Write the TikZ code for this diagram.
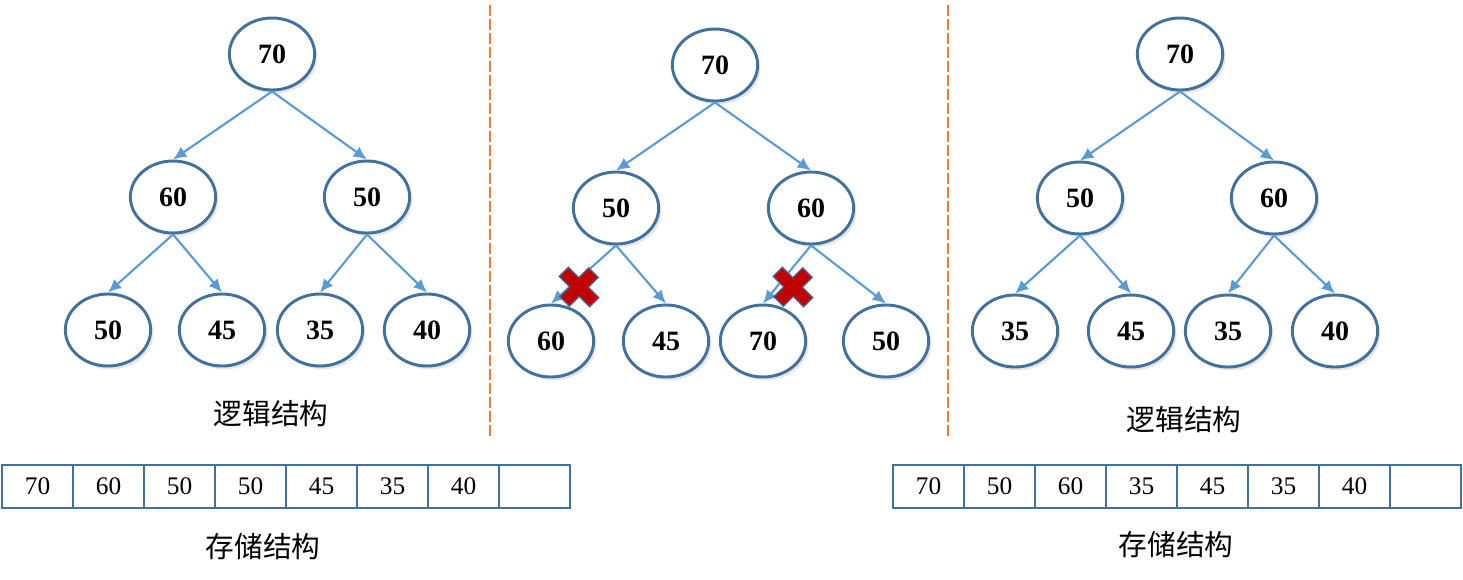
\documentclass[tikz,border=0pt]{standalone}
\usepackage{fontspec}
\setmainfont{Liberation Serif}
\newfontfamily\cjk{Noto Sans CJK SC}
\usetikzlibrary{shapes.geometric,arrows.meta,shadows}
\definecolor{nodeblue}{HTML}{41719C}
\definecolor{edgeblue}{HTML}{5B9BD5}
\definecolor{dashorange}{HTML}{ED7D31}
\definecolor{xred}{HTML}{C00000}
\tikzset{
  hn/.style={ellipse, draw=nodeblue, line width=2.2pt, fill=white,
    minimum width=64pt, minimum height=54pt, inner sep=0pt,
    drop shadow={opacity=0.2, shadow xshift=2pt, shadow yshift=-2.5pt},
    font=\fontsize{21}{21}\selectfont\bfseries},
  hedge/.style={draw=edgeblue, line width=1.6pt, -{Latex[length=10pt,width=9pt]}},
  cell/.style={rectangle, draw=nodeblue, line width=2.2pt, minimum width=53.25pt,
    minimum height=32.25pt, inner sep=0pt, font=\fontsize{19}{19}\selectfont},
  captext/.style={font=\cjk\fontsize{21.5}{21.5}\selectfont, inner sep=0pt},
  sepline/.style={draw=dashorange, line width=2pt, dash pattern=on 8pt off 2.5pt},
  redx/.pic={\draw[fill=xred, draw=nodeblue, line width=0.9pt, rotate=45, yscale=1.05]
    (6.5,20.5) -- (6.5,6.5) -- (20.5,6.5) -- (20.5,-6.5) -- (6.5,-6.5) -- (6.5,-20.5)
    -- (-6.5,-20.5) -- (-6.5,-6.5) -- (-20.5,-6.5) -- (-20.5,6.5) -- (-6.5,6.5)
    -- (-6.5,20.5) -- cycle;}
}
\begin{document}
\begin{tikzpicture}[x=0.75pt,y=-0.75pt]
\useasboundingbox (0,0) rectangle (1463,579);
% separators
\draw[sepline] (490,5) -- (490,438);
\draw[sepline] (948,5) -- (948,438);

% left tree
\node[hn] (a1) at (272,54) {70};
\node[hn] (a2) at (173,197) {60};
\node[hn] (a3) at (367,197) {50};
\node[hn] (a4) at (108,330) {50};
\node[hn] (a5) at (222,330) {45};
\node[hn] (a6) at (320,330) {35};
\node[hn] (a7) at (427,330) {40};
\draw[hedge] (a1.south) -- (a2.north);
\draw[hedge] (a1.south) -- (a3.north);
\draw[hedge] (a2.south) -- (a4.north);
\draw[hedge] (a2.south) -- (a5.north);
\draw[hedge] (a3.south) -- (a6.north);
\draw[hedge] (a3.south) -- (a7.north);

% middle tree
\node[hn] (b1) at (715,65) {70};
\node[hn] (b2) at (616,208) {50};
\node[hn] (b3) at (811,208) {60};
\node[hn] (b4) at (551,341) {60};
\node[hn] (b5) at (666,341) {45};
\node[hn] (b6) at (763,341) {70};
\node[hn] (b7) at (886,341) {50};
\draw[hedge] (b1.south) -- (b2.north);
\draw[hedge] (b1.south) -- (b3.north);
\draw[hedge] (b2.south) -- (b4.north);
\draw[hedge] (b2.south) -- (b5.north);
\draw[hedge] (b3.south) -- (b6.north);
\draw[hedge] (b3.south) -- (b7.north);
\pic at (579,287) {redx};
\pic at (793,287) {redx};

% right tree
\node[hn] (c1) at (1180,54) {70};
\node[hn] (c2) at (1080,198) {50};
\node[hn] (c3) at (1274,198) {60};
\node[hn] (c4) at (1015,331) {35};
\node[hn] (c5) at (1131,331) {45};
\node[hn] (c6) at (1228,331) {35};
\node[hn] (c7) at (1335,331) {40};
\draw[hedge] (c1.south) -- (c2.north);
\draw[hedge] (c1.south) -- (c3.north);
\draw[hedge] (c2.south) -- (c4.north);
\draw[hedge] (c2.south) -- (c5.north);
\draw[hedge] (c3.south) -- (c6.north);
\draw[hedge] (c3.south) -- (c7.north);

% captions
\node[captext] (l1) at (271,414) {逻辑结构};
\node[captext] (l2) at (1184,420) {逻辑结构};
\node[captext] (s1) at (263,547) {存储结构};
\node[captext] (s2) at (1176,545) {存储结构};

% arrays
\foreach \v [count=\i] in {70,60,50,50,45,35,40,{}} {
  \node[cell] (p\i) at ({2+35.5+71*(\i-1)},486.5) {\v};
}
\foreach \v [count=\i] in {70,50,60,35,45,35,40,{}} {
  \node[cell] (q\i) at ({893+35.5+71*(\i-1)},486.5) {\v};
}
\end{tikzpicture}
\end{document}
